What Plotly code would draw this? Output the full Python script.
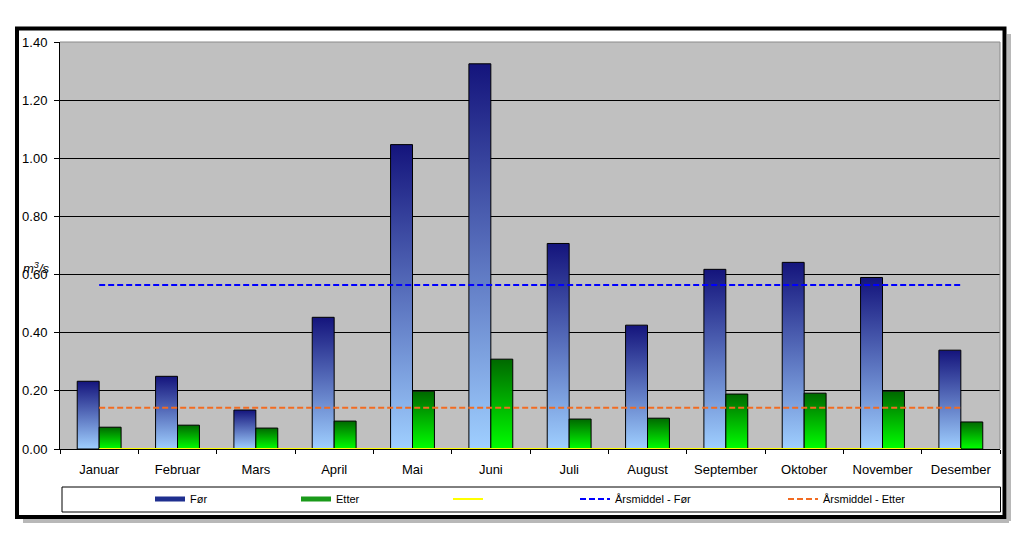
import plotly.graph_objects as go

# ---------------- data ----------------
months = ["Januar", "Februar", "Mars", "April", "Mai", "Juni",
          "Juli", "August", "September", "Oktober", "November", "Desember"]
for_vals = [0.233, 0.250, 0.134, 0.453, 1.047, 1.325,
            0.707, 0.426, 0.618, 0.642, 0.590, 0.340]
etter_vals = [0.075, 0.082, 0.072, 0.096, 0.199, 0.309,
              0.103, 0.106, 0.189, 0.192, 0.199, 0.093]
zero_vals = [0.0, 0.0, 0.0, 0.0, 0.0, 0.0, 0.0, 0.0, 0.0, 0.0, 0.0, 0.0]
mean_for = 0.564
mean_etter = 0.142
y_ticks = [0.0, 0.2, 0.4, 0.6, 0.8, 1.0, 1.2, 1.4]

# ---------------- geometry helpers (layout only) ----------------
W, H = 1024, 533
PL, PR, PT, PB = 60, 1000, 42, 449  # plot area in pixels


def xp(px):
    return (px - PL) / (PR - PL)


def yp(py):
    return (PB - py) / (PB - PT)


FONT = "Liberation Sans, Arial, sans-serif"

fig = go.Figure()

# bars
fig.add_trace(go.Bar(x=months, y=for_vals, name="Før", showlegend=False,
                     marker=dict(color="#3b4fa8", line=dict(color="#000000", width=1))))
fig.add_trace(go.Bar(x=months, y=etter_vals, name="Etter", showlegend=False,
                     marker=dict(color="#10b010", line=dict(color="#000000", width=1))))

# yellow zero series
fig.add_trace(go.Scatter(x=months, y=zero_vals, mode="lines", name=" ",
                         line=dict(color="#ffff00", width=2), cliponaxis=False,
                         legend="legend3"))
# annual means
fig.add_trace(go.Scatter(x=months, y=[mean_for for _ in months], mode="lines",
                         name="Årsmiddel - Før",
                         line=dict(color="#0000ff", width=2, dash="6px,3px"),
                         legend="legend4"))
fig.add_trace(go.Scatter(x=months, y=[mean_etter for _ in months], mode="lines",
                         name="Årsmiddel - Etter",
                         line=dict(color="#f26b21", width=2, dash="6px,3px"),
                         legend="legend5"))

# legend-only swatches for the bar series
fig.add_trace(go.Scatter(x=[None], y=[None], mode="lines", name="Før",
                         line=dict(color="#1f2f8f", width=5), legend="legend"))
fig.add_trace(go.Scatter(x=[None], y=[None], mode="lines", name="Etter",
                         line=dict(color="#1a9a1a", width=5), legend="legend2"))

leg_common = dict(orientation="h", xref="container", yref="container",
                  xanchor="left", yanchor="middle", y=1 - 499 / H,
                  bgcolor="rgba(0,0,0,0)", borderwidth=0,
                  font=dict(family=FONT, size=11, color="#000000"))
legend_x = [150, 296, 448, 575, 783]

shapes = [
    # shadow of outer frame
    dict(type="line", xref="paper", yref="paper", x0=xp(1009), x1=xp(1009),
         y0=yp(34), y1=yp(521), line=dict(color="#b8b8b8", width=4)),
    dict(type="line", xref="paper", yref="paper", x0=xp(23), x1=xp(1009),
         y0=yp(521), y1=yp(521), line=dict(color="#b8b8b8", width=4)),
    # outer frame
    dict(type="rect", xref="paper", yref="paper", x0=xp(17), x1=xp(1004.5),
         y0=yp(28.5), y1=yp(517), line=dict(color="#000000", width=4)),
    # legend box
    dict(type="rect", xref="paper", yref="paper", x0=xp(62), x1=xp(1000.5),
         y0=yp(487), y1=yp(512), line=dict(color="#000000", width=1)),
    # plot area top and right border (gray)
    dict(type="line", xref="paper", yref="paper", x0=0, x1=1, y0=1, y1=1,
         line=dict(color="#8a8a8a", width=1)),
    dict(type="line", xref="paper", yref="paper", x0=1, x1=1, y0=0, y1=1,
         line=dict(color="#8a8a8a", width=1)),
]

fig.update_layout(
    width=W, height=H,
    margin=dict(l=PL, r=W - PR, t=PT, b=H - PB, autoexpand=False),
    paper_bgcolor="#ffffff",
    plot_bgcolor="#c0c0c0",
    barmode="group", bargap=0.44, bargroupgap=0,
    font=dict(family=FONT, size=13, color="#000000"),
    legend=dict(leg_common, x=legend_x[0] / W),
    legend2=dict(leg_common, x=legend_x[1] / W),
    legend3=dict(leg_common, x=legend_x[2] / W),
    legend4=dict(leg_common, x=legend_x[3] / W),
    legend5=dict(leg_common, x=legend_x[4] / W),
    shapes=shapes,
    annotations=[dict(text="<i>m<sup>3</sup>/s</i>", xref="paper", yref="paper",
                      x=xp(21), y=yp(268), xanchor="left", yanchor="middle",
                      showarrow=False, font=dict(family=FONT, size=13, color="#000000"))],
)

fig.update_xaxes(type="category", tickson="boundaries", ticks="outside", ticklen=4,
                 tickcolor="#000000", showline=True, linecolor="#000000", linewidth=1,
                 showgrid=False, layer="below traces", tickfont=dict(size=13),
                 ticklabelstandoff=8, automargin=False)
fig.update_yaxes(range=[0, 1.4], tickvals=y_ticks, tickformat=".2f", ticks="outside",
                 ticklen=5, tickcolor="#000000", showline=True, linecolor="#000000",
                 linewidth=1, showgrid=True, gridcolor="#000000", gridwidth=1,
                 zeroline=False, layer="below traces", tickfont=dict(size=13),
                 ticklabelstandoff=4, automargin=False)

post_js = """
var gd = document.getElementById('{plot_id}');
function addGrad(defs, id, c1, c2){
  var ns = 'http://www.w3.org/2000/svg';
  if (defs.querySelector('#' + id)) return;
  var g = document.createElementNS(ns, 'linearGradient');
  g.setAttribute('id', id);
  g.setAttribute('x1', '0'); g.setAttribute('y1', '0');
  g.setAttribute('x2', '0'); g.setAttribute('y2', '1');
  [[0, c1], [1, c2]].forEach(function(s){
    var st = document.createElementNS(ns, 'stop');
    st.setAttribute('offset', s[0]);
    st.setAttribute('stop-color', s[1]);
    g.appendChild(st);
  });
  defs.appendChild(g);
}
function applyGrad(){
  var svg = gd.querySelector('svg.main-svg');
  if (!svg) return;
  var defs = svg.querySelector('defs');
  if (!defs) { defs = document.createElementNS('http://www.w3.org/2000/svg', 'defs'); svg.insertBefore(defs, svg.firstChild); }
  addGrad(defs, 'gradFor', '#14147c', '#9fcfff');
  addGrad(defs, 'gradEtter', '#006800', '#00ff00');
  var traces = gd.querySelectorAll('.barlayer .trace');
  traces.forEach(function(tr, i){
    tr.querySelectorAll('path').forEach(function(p){
      p.style.fill = (i === 0) ? 'url(#gradFor)' : 'url(#gradEtter)';
    });
  });
}
applyGrad();
gd.on('plotly_afterplot', applyGrad);
"""

fig.write_html("out.html", post_script=post_js)
